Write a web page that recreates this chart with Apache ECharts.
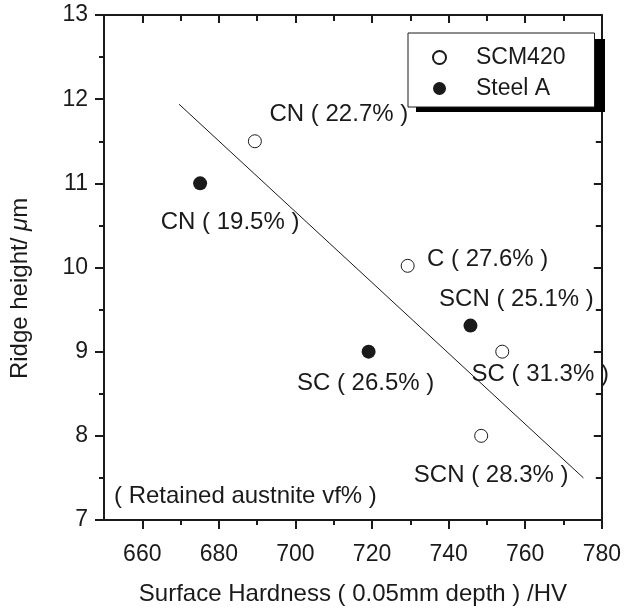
<!DOCTYPE html>
<html>
<head>
<meta charset="utf-8">
<script src="https://cdn.jsdelivr.net/npm/echarts@6/dist/echarts.min.js"></script>
<style>
  html, body { margin: 0; padding: 0; background: #fff; }
  #chart { width: 624px; height: 611px; }
</style>
</head>
<body>
<div id="chart"></div>
<script>
// SCM420 (open circles)
const scmX = [689.4, 729.3, 754.0, 748.5];
const scmY = [11.5, 10.02, 9.0, 8.0];
const scmLabels = ['CN ( 22.7% )', 'C ( 27.6% )', 'SC ( 31.3% )', 'SCN ( 28.3% )'];

// Steel A (filled circles)
const steelX = [675.1, 719.1, 745.7];
const steelY = [11.0, 9.0, 9.31];
const steelLabels = ['CN ( 19.5% )', 'SC ( 26.5% )', 'SCN ( 25.1% )'];

// fitted line end points
const fitX = [669.6, 775.2];
const fitY = [11.94, 7.5];

const xMajor = [660, 680, 700, 720, 740, 760, 780];
const xMinor = [670, 690, 710, 730, 750, 770];

// label offsets (px) from each point, same order as the data above
const scmOffsets = [[84, -27], [80, -6], [38, 23], [10, 40]];
const steelOffsets = [[30, 39], [-3, 32], [46, -26]];

const font = 'Liberation Sans, Arial, Helvetica, sans-serif';
const ink = '#1a1a1a';

const chart = echarts.init(document.getElementById('chart'));

function points(xs, ys, labels, offsets) {
    return xs.map(function (x, i) {
        return {
            value: [x, ys[i]],
            label: {
                show: true,
                position: 'inside',
                offset: offsets[i],
                formatter: labels[i],
                fontSize: 24,
                fontFamily: font,
                color: ink
            }
        };
    });
}

const axisLine = { show: true, lineStyle: { color: ink, width: 2 } };

const option = {
    animation: false,
    backgroundColor: '#fff',
    grid: { left: 101, right: 18, top: 15, bottom: 91 },
    legend: {
        left: 408,
        top: 33,
        z: 10,
        orient: 'vertical',
        align: 'left',
        padding: [13, 29, 7, 24],
        itemGap: 8,
        itemWidth: 13,
        itemHeight: 13,
        backgroundColor: '#fff',
        borderColor: ink,
        borderWidth: 1,
        textStyle: { fontSize: 23, fontFamily: font, color: ink, padding: [0, 0, 0, 25] },
        data: [
            { name: 'SCM420', icon: 'circle' },
            { name: 'Steel A', icon: 'circle' }
        ]
    },
    xAxis: [
        {
            type: 'value', position: 'bottom', min: 650, max: 780, splitNumber: 6,
            name: 'Surface Hardness ( 0.05mm depth ) /HV',
            nameLocation: 'middle', nameGap: 62,
            nameTextStyle: { fontSize: 24, fontFamily: font, color: ink },
            axisLine: axisLine,
            axisTick: { show: true, customValues: xMajor, length: 9, lineStyle: { color: ink, width: 2 } },
            axisLabel: { customValues: xMajor, fontSize: 23, fontFamily: font, color: ink, margin: 23 },
            splitLine: { show: false }
        },
        {
            type: 'value', position: 'bottom', min: 650, max: 780,
            axisLine: { show: false },
            axisTick: { show: true, customValues: xMinor, length: 5, lineStyle: { color: ink, width: 2 } },
            axisLabel: { show: false },
            splitLine: { show: false }
        },
        {
            type: 'value', position: 'top', min: 650, max: 780,
            axisLine: axisLine,
            axisTick: { show: true, inside: true, customValues: xMajor, length: 8, lineStyle: { color: ink, width: 2 } },
            axisLabel: { show: false },
            splitLine: { show: false }
        },
        {
            type: 'value', position: 'top', min: 650, max: 780,
            axisLine: { show: false },
            axisTick: { show: true, inside: true, customValues: xMinor, length: 6, lineStyle: { color: ink, width: 2 } },
            axisLabel: { show: false },
            splitLine: { show: false }
        }
    ],
    yAxis: [
        {
            type: 'value', position: 'left', min: 7, max: 13, interval: 1,
            name: 'Ridge height/ {m|μ}m',
            nameLocation: 'middle', nameGap: 72,
            nameTextStyle: {
                fontSize: 24, fontFamily: font, color: ink,
                padding: [0, 42, 0, 0],
                rich: { m: { fontSize: 24, fontFamily: font, fontStyle: 'italic', color: ink } }
            },
            axisLine: axisLine,
            axisTick: { show: true, length: 9, lineStyle: { color: ink, width: 2 } },
            minorTick: { show: true, splitNumber: 2, length: 5, lineStyle: { color: ink, width: 2 } },
            axisLabel: { fontSize: 23, fontFamily: font, color: ink, margin: 16 },
            splitLine: { show: false }
        },
        {
            type: 'value', position: 'right', min: 7, max: 13, interval: 1,
            axisLine: axisLine,
            axisTick: { show: true, inside: true, length: 8, lineStyle: { color: ink, width: 2 } },
            minorTick: { show: true, splitNumber: 2, length: 6, lineStyle: { color: ink, width: 2 } },
            axisLabel: { show: false },
            splitLine: { show: false }
        }
    ],
    series: [
        {
            name: 'fit',
            type: 'line',
            data: fitX.map(function (x, i) { return [x, fitY[i]]; }),
            symbol: 'none',
            silent: true,
            lineStyle: { color: ink, width: 1 },
            z: 1
        },
        {
            name: 'SCM420',
            type: 'scatter',
            symbol: 'circle',
            symbolSize: 13,
            itemStyle: { color: '#fff', borderColor: ink, borderWidth: 1, opacity: 1 },
            data: points(scmX, scmY, scmLabels, scmOffsets),
            z: 3
        },
        {
            name: 'Steel A',
            type: 'scatter',
            symbol: 'circle',
            symbolSize: 14,
            itemStyle: { color: ink, opacity: 1 },
            data: points(steelX, steelY, steelLabels, steelOffsets),
            z: 3
        }
    ],
    graphic: [
        {
            // solid drop shadow behind the legend box
            type: 'rect',
            z: 5,
            shape: { x: 416, y: 39, width: 189, height: 73 },
            style: { fill: '#000' }
        },
        {
            type: 'text',
            left: 114,
            top: 484,
            style: {
                text: '( Retained austnite vf% )',
                fontSize: 24,
                fontFamily: font,
                fill: ink
            }
        }
    ]
};

chart.setOption(option);
</script>
</body>
</html>
